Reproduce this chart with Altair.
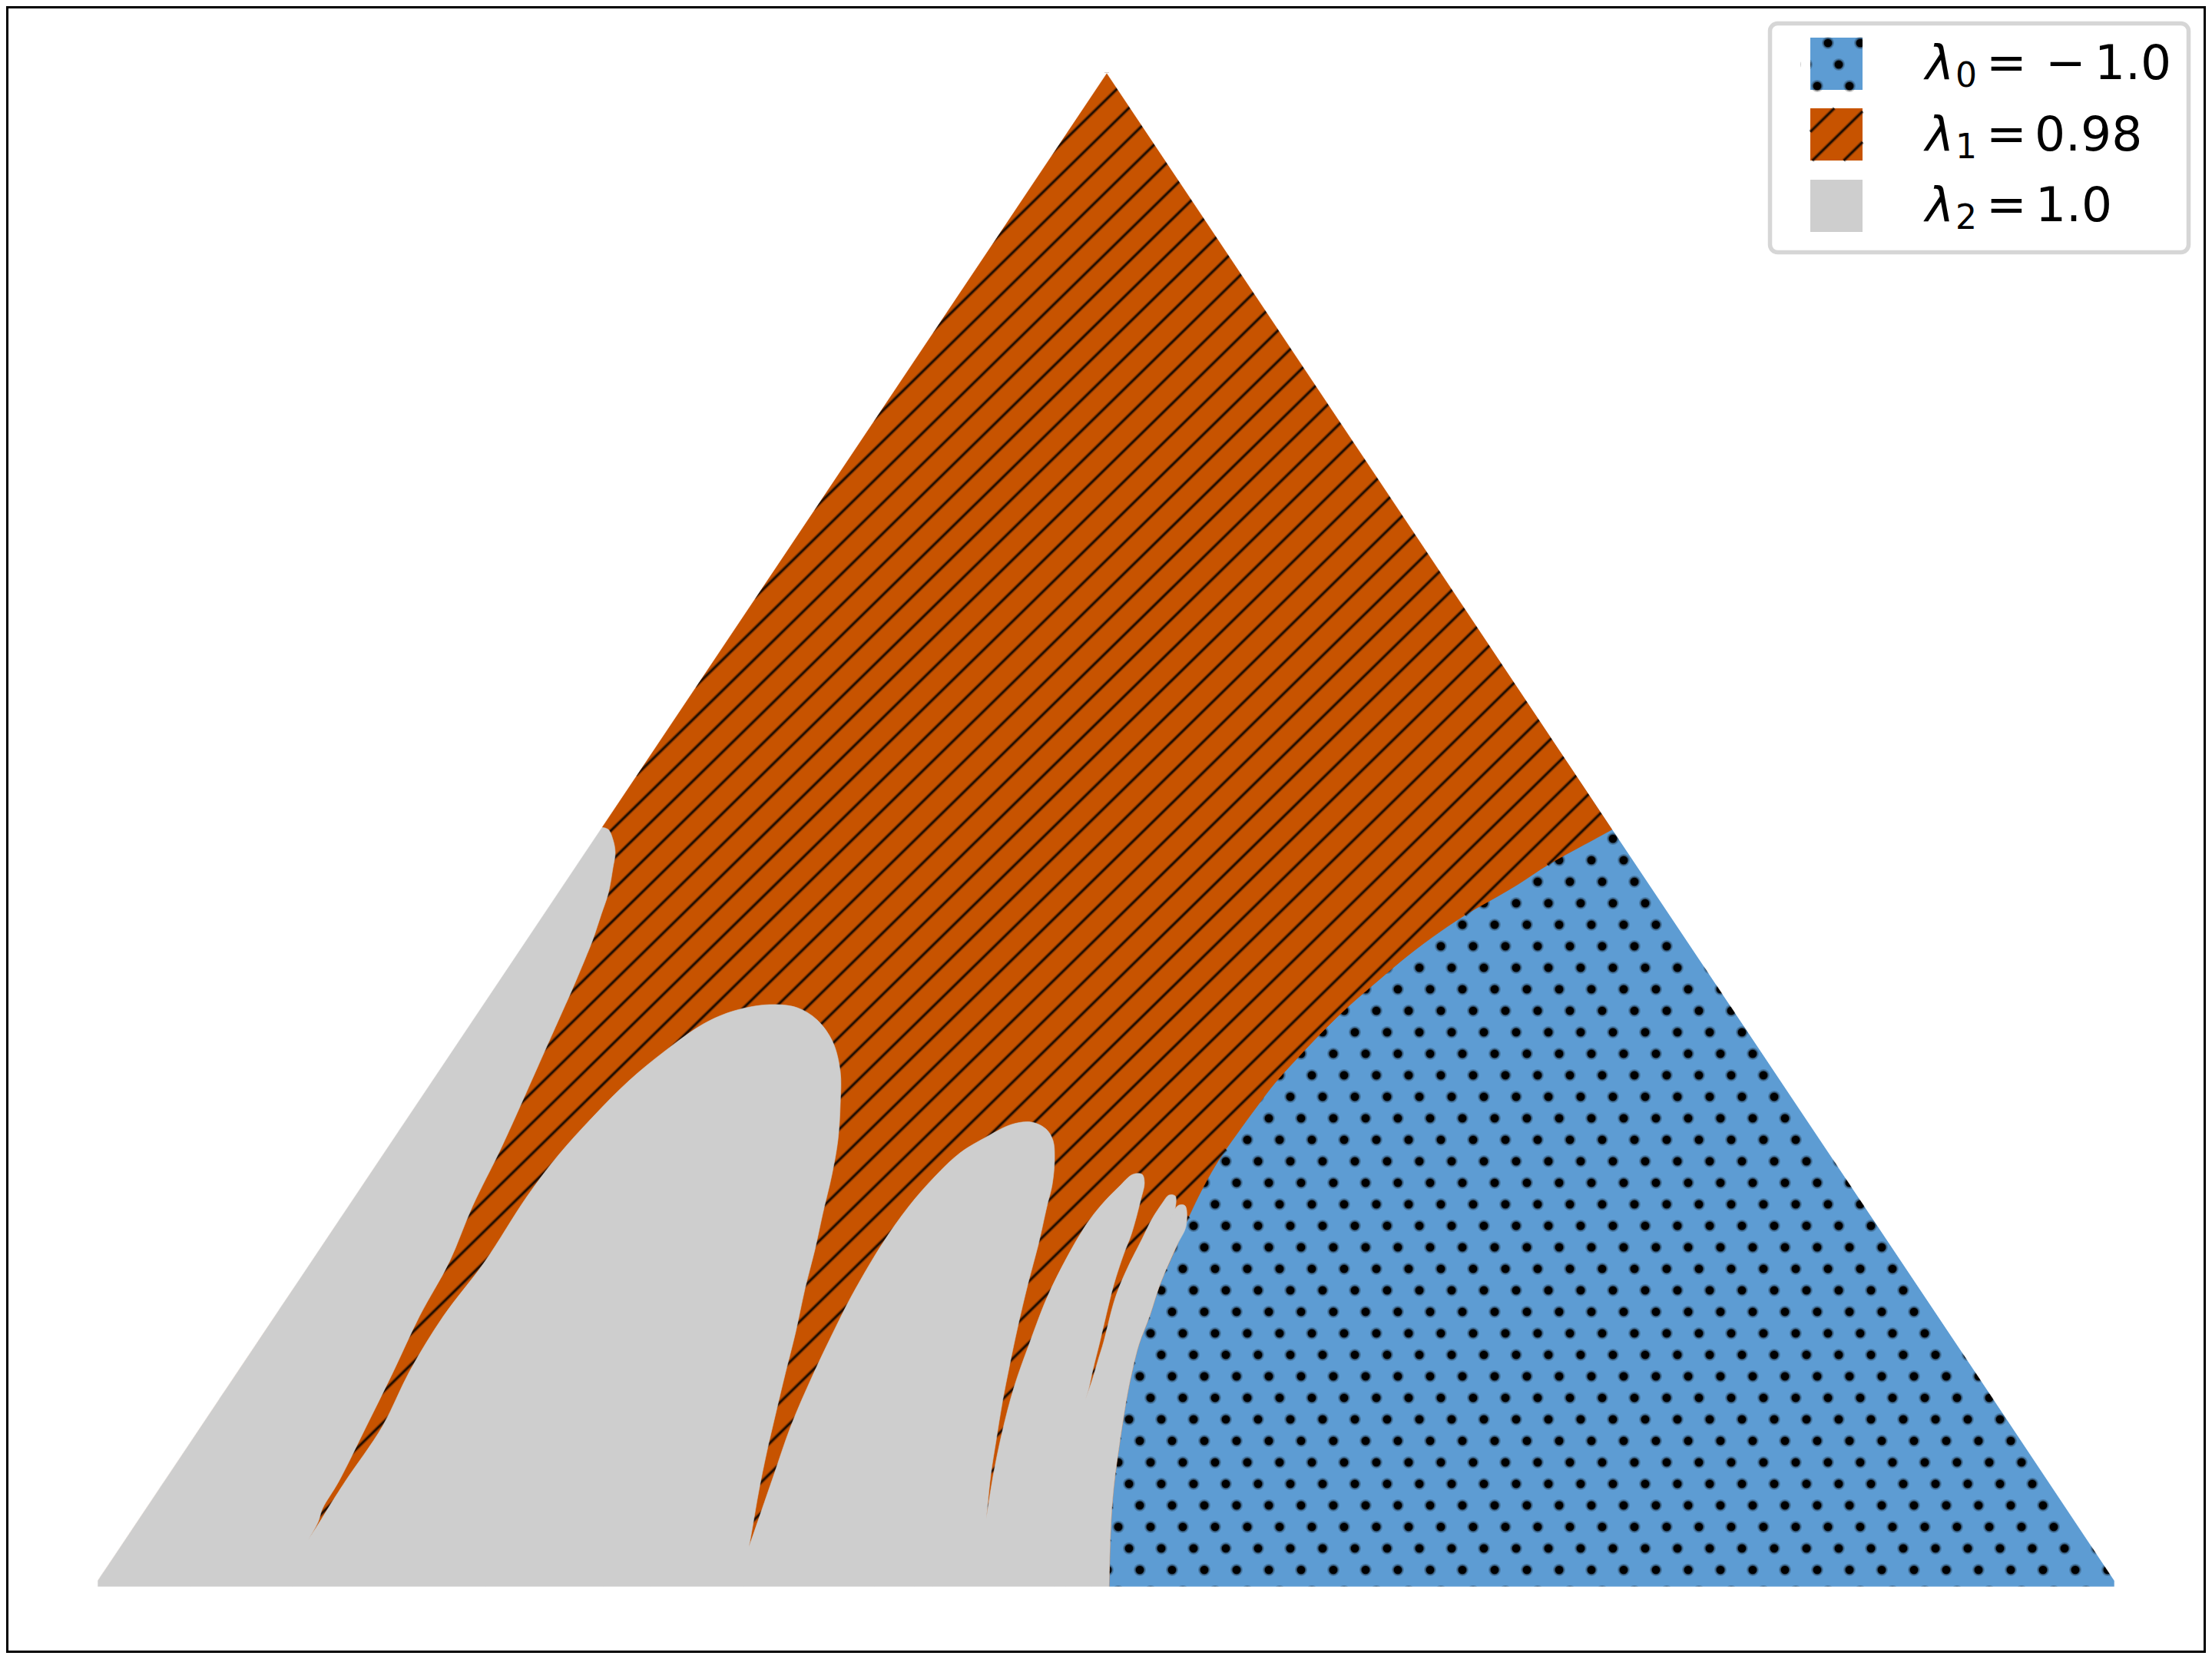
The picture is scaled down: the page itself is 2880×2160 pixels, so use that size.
import altair as alt
import pandas as pd

# Reading frame: coordinates
X_DOMAIN = [8, 2872]
Y_DOMAIN = [2152, 8]

# Region outlines
left_edge_x = [127, 380, 783]
left_edge_y = [2058, 1680, 1077]
apex_x = [1438, 1444]
apex_y = [95, 95]
right_edge_x = [1444, 2099]
right_edge_y = [95, 1080]
right_base_x = [2581, 2753, 2753]
right_base_y = [1800, 2058, 2066]

# lambda_0 / lambda_1 boundary (top right to finger 5)
b01_x = [2099, 2077, 2017, 1977, 1950, 1913, 1875, 1832, 1794, 1756, 1725, 1687, 1660, 1637, 1610, 1587, 1568, 1553, 1543]
b01_y = [1080, 1092, 1125, 1151, 1167, 1188, 1213, 1245, 1277, 1310, 1340, 1380, 1410, 1440, 1477, 1510, 1543, 1573, 1595]
# lambda_0 / lambda_2 boundary (finger 5 to the base)
b02_x = [1533, 1510, 1497, 1483, 1473, 1467, 1459, 1450, 1446, 1444]
b02_y = [1620, 1673, 1713, 1750, 1790, 1820, 1870, 1937, 1993, 2066]

# lambda_2 outline from the left edge, finger by finger
g0_x = [792, 798, 801, 798, 792, 783, 772, 762, 743, 734, 701, 668, 650, 615, 585, 546, 512, 477, 441, 420, 414, 400]
g0_y = [1080, 1093, 1110, 1130, 1163, 1190, 1223, 1248, 1293, 1313, 1387, 1461, 1500, 1571, 1643, 1714, 1786, 1857, 1929, 1964, 1982, 2007]
f1_x = [416, 427, 450, 498, 533, 577, 631, 686, 727, 773, 819, 865, 916, 956, 1002, 1038, 1064, 1084, 1094, 1094, 1091, 1083, 1071, 1061, 1048, 1036, 1022, 1011, 998, 988, 980, 975]
f1_y = [1982, 1964, 1928, 1857, 1786, 1714, 1643, 1558, 1504, 1453, 1407, 1369, 1333, 1316, 1308, 1312, 1328, 1356, 1395, 1438, 1484, 1530, 1581, 1627, 1678, 1734, 1790, 1836, 1892, 1941, 1987, 2015]
f2_x = [1007, 1030, 1058, 1093, 1110, 1147, 1183, 1217, 1250, 1283, 1317, 1343, 1362, 1371, 1373, 1370, 1363, 1352, 1338, 1325, 1315, 1305, 1297, 1290, 1286, 1284]
f2_y = [1922, 1856, 1791, 1718, 1685, 1622, 1571, 1532, 1501, 1481, 1464, 1461, 1470, 1485, 1509, 1542, 1571, 1620, 1673, 1728, 1775, 1826, 1875, 1920, 1958, 1979]
f3_x = [1293, 1305, 1320, 1340, 1367, 1410, 1433, 1457, 1475, 1487, 1490, 1485, 1473, 1463, 1450, 1440, 1432, 1423, 1417, 1412]
f3_y = [1922, 1864, 1807, 1750, 1681, 1601, 1570, 1545, 1529, 1529, 1540, 1563, 1607, 1633, 1673, 1713, 1747, 1783, 1810, 1825]
f4_x = [1421, 1430, 1437, 1452, 1467, 1487, 1500, 1513, 1522, 1530, 1531, 1525, 1515, 1507, 1498]
f4_y = [1800, 1770, 1747, 1690, 1653, 1613, 1587, 1567, 1556, 1557, 1567, 1590, 1613, 1633, 1645]
f5_x = [1510, 1520, 1528, 1535, 1543, 1544]
f5_y = [1617, 1597, 1577, 1569, 1570, 1597]
base_left_x = [127]
base_left_y = [2066]

# Hatch and swatch readings
dot_origin = (2506, 1820)
dot_cols, dot_rows, dot_shift = 42, 28, 14
line_slope, line_period, line_phase = 0.98, 40.0, 1541.0
swatch_phase = 2521.5

# Legend
legend_box = (2304.5, 30.5, 2849.5, 328.5)
swatch_x = (2357, 2425)
swatch_y = [(49, 117), (141, 209), (234, 302)]
legend_symbols = ["λ", "λ", "λ"]
legend_subs = ["0", "1", "2"]
legend_values = ["1.0", "0.98", "1.0"]

BLUE = "#5D9CD3"
ORANGE = "#C75300"
GRAY = "#CECECE"

ex = alt.X("x:Q", scale=alt.Scale(domain=X_DOMAIN), axis=None)
ey = alt.Y("y:Q", scale=alt.Scale(domain=Y_DOMAIN), axis=None)


def join(*segments):
    """Chain outline pieces; a doubled last point keeps the corner sharp."""
    xs, ys = [], []
    for sx, sy in segments:
        xs += list(sx) + [sx[-1]]
        ys += list(sy) + [sy[-1]]
    return xs, ys


def polygon(xs, ys, color, curve="linear"):
    px, py = list(xs) + [xs[0]], list(ys) + [ys[0]]
    df = pd.DataFrame({"x": px, "y": py, "i": range(len(px))})
    return (
        alt.Chart(df)
        .mark_line(fill=color, stroke=color, strokeWidth=0.6, interpolate=curve, clip=False)
        .encode(x=ex, y=ey, order="i:Q")
    )


def inside(px, py, xs, ys):
    hit = False
    n = len(xs)
    for a in range(n):
        b = (a + 1) % n
        if (ys[a] > py) != (ys[b] > py):
            if px < xs[a] + (py - ys[a]) * (xs[b] - xs[a]) / (ys[b] - ys[a]):
                hit = not hit
    return hit


def clip_hatch(xs, ys, phase):
    """Cut the family of hatch lines y = c - slope * x to a polygon."""
    rows = []
    n = len(xs)
    for k in range(-60, 90):
        c = phase + k * line_period
        cuts = []
        for a in range(n):
            b = (a + 1) % n
            fa = ys[a] + line_slope * xs[a] - c
            fb = ys[b] + line_slope * xs[b] - c
            if (fa > 0) != (fb > 0):
                t = fa / (fa - fb)
                cuts.append(xs[a] + t * (xs[b] - xs[a]))
        cuts.sort()
        for p in range(0, len(cuts) - 1, 2):
            rows.append({"x": cuts[p], "y": c - line_slope * cuts[p],
                         "x2": cuts[p + 1], "y2": c - line_slope * cuts[p + 1]})
    return pd.DataFrame(rows)


def dot_lattice(xmin, xmax, ymin, ymax):
    rows = []
    for k in range(-70, 12):
        y = dot_origin[1] + dot_rows * k
        if y < ymin or y > ymax:
            continue
        x0 = dot_origin[0] + dot_shift * k
        for m in range(-80, 80):
            x = x0 + dot_cols * m
            if xmin <= x <= xmax:
                rows.append({"x": x, "y": y})
    return pd.DataFrame(rows)


def rules(df, width, opacity):
    return alt.Chart(df).mark_rule(color="black", strokeWidth=width, opacity=opacity).encode(
        x=ex, y=ey, x2="x2:Q", y2="y2:Q")


def hatch_layers(df):
    return [rules(df, 5.5, 0.2), rules(df, 3.6, 0.35), rules(df, 2.0, 0.7)]


def dots(df, diam, opacity):
    return alt.Chart(df).mark_circle(color="black", size=diam * diam, opacity=opacity).encode(x=ex, y=ey)


def dot_layers(df):
    return [dots(df, 16, 0.2), dots(df, 13, 0.4), dots(df, 10.5, 1.0)]


def rect(x0, y0, x1, y1, **kw):
    return alt.Chart(pd.DataFrame({"x": [x0], "y": [y0], "x2": [x1], "y2": [y1]})).mark_rect(**kw).encode(
        x=ex, y=ey, x2="x2:Q", y2="y2:Q")


def label(texts, xs, ys, size, style="normal"):
    df = pd.DataFrame({"t": texts, "x": xs, "y": ys})
    return alt.Chart(df).mark_text(
        font="DejaVu Sans", fontSize=size, fontStyle=style, align="left", baseline="alphabetic", color="black"
    ).encode(x=ex, y=ey, text="t:N")


# Assemble outlines
triangle_x = left_edge_x + apex_x + right_edge_x[1:] + right_base_x + base_left_x
triangle_y = left_edge_y + apex_y + right_edge_y[1:] + right_base_y + base_left_y
blue_x = b01_x + b02_x + right_base_x[::-1]
blue_y = b01_y + b02_y + right_base_y[::-1]
hatch_x = right_edge_x + b01_x[1:] + b02_x + base_left_x + left_edge_x + apex_x[:1]
hatch_y = right_edge_y + b01_y[1:] + b02_y + base_left_y + left_edge_y + apex_y[:1]

orange_x, orange_y = join(
    (apex_x, apex_y), (right_edge_x, right_edge_y),
    (b01_x + b02_x, b01_y + b02_y), (base_left_x, base_left_y), (left_edge_x, left_edge_y),
)
gray_x, gray_y = join(
    (left_edge_x, left_edge_y), (g0_x, g0_y), (f1_x, f1_y), (f2_x, f2_y), (f3_x, f3_y),
    (f4_x, f4_y), (f5_x + b02_x, f5_y + b02_y), (base_left_x, base_left_y),
)

# Dots kept where they touch the lambda_0 region
lat = dot_lattice(1400, 2790, 1050, 2090)
r = 9
keep = [
    any(inside(px + dx, py + dy, blue_x, blue_y) for dx, dy in [(0, 0), (r, 0), (-r, 0), (0, r), (0, -r)])
    for px, py in zip(lat.x, lat.y)
]
main_dots = lat[keep]
main_hatch = clip_hatch(hatch_x, hatch_y, line_phase)

# Outside-of-triangle masks trim whatever runs past the edges
mask_right_x = [1441, 1480, 2790, 2790, 1400, 1400, 2753, 2753, 2581]
mask_right_y = [95, 95, 2058, 2095, 2095, 2066, 2066, 2058, 1800]
mask_left_x = [1441, 1400, 85, 85, 1400, 1400, 127, 127, 380]
mask_left_y = [95, 95, 2058, 2095, 2095, 2066, 2066, 2058, 1680]

# Legend pieces
s0y, s1y, s2y = swatch_y
sw_dots = dot_lattice(swatch_x[0] - 8, swatch_x[1] + 8, s0y[0] - 2, s0y[1] + 2)
sw_poly_x = [swatch_x[0], swatch_x[1], swatch_x[1], swatch_x[0]]
sw_poly_y = [s1y[0], s1y[0], s1y[1], s1y[1]]
sw_hatch = clip_hatch(sw_poly_x, sw_poly_y, swatch_phase)

baselines = [103, 195.5, 288]
sub_base = [b + 10 for b in baselines]

layers = [
    polygon(triangle_x, triangle_y, BLUE),
    *dot_layers(main_dots),
    polygon(orange_x, orange_y, ORANGE, "catmull-rom"),
    *hatch_layers(main_hatch),
    polygon(gray_x, gray_y, GRAY, "catmull-rom"),
    polygon(mask_right_x, mask_right_y, "white"),
    polygon(mask_left_x, mask_left_y, "white"),
    rect(*legend_box, fill="white", stroke="#D6D6D6", strokeWidth=5.5, cornerRadius=10),
    rect(swatch_x[0], s0y[0], swatch_x[1], s0y[1], fill=BLUE),
    *dot_layers(sw_dots),
    rect(swatch_x[0] - 12, s0y[0] - 1, swatch_x[0], s0y[1] + 1, fill="white"),
    rect(swatch_x[1], s0y[0] - 1, swatch_x[1] + 12, s0y[1] + 1, fill="white"),
    rect(swatch_x[0], s1y[0], swatch_x[1], s1y[1], fill=ORANGE),
    *hatch_layers(sw_hatch),
    rect(swatch_x[0], s2y[0], swatch_x[1], s2y[1], fill=GRAY),
    label(legend_symbols, [2507] * 3, baselines, 63, "italic"),
    label(legend_subs, [2546] * 3, sub_base, 44),
    label(["=", "=", "="], [2586] * 3, baselines, 63),
    label(["−"], [2663], baselines[:1], 63),
    label(legend_values, [2727, 2649, 2650], baselines, 63),
    rect(9.5, 9.5, 2870.5, 2150.5, fillOpacity=0, fill="white", stroke="black", strokeWidth=3),
]

chart = (
    alt.layer(*layers)
    .properties(width=2864, height=2144, padding=0, background="white",
                autosize=alt.AutoSizeParams(type="none"))
    .configure_view(stroke=None)
)
chart.save("out.html", embed_options={"renderer": "svg", "actions": False})
